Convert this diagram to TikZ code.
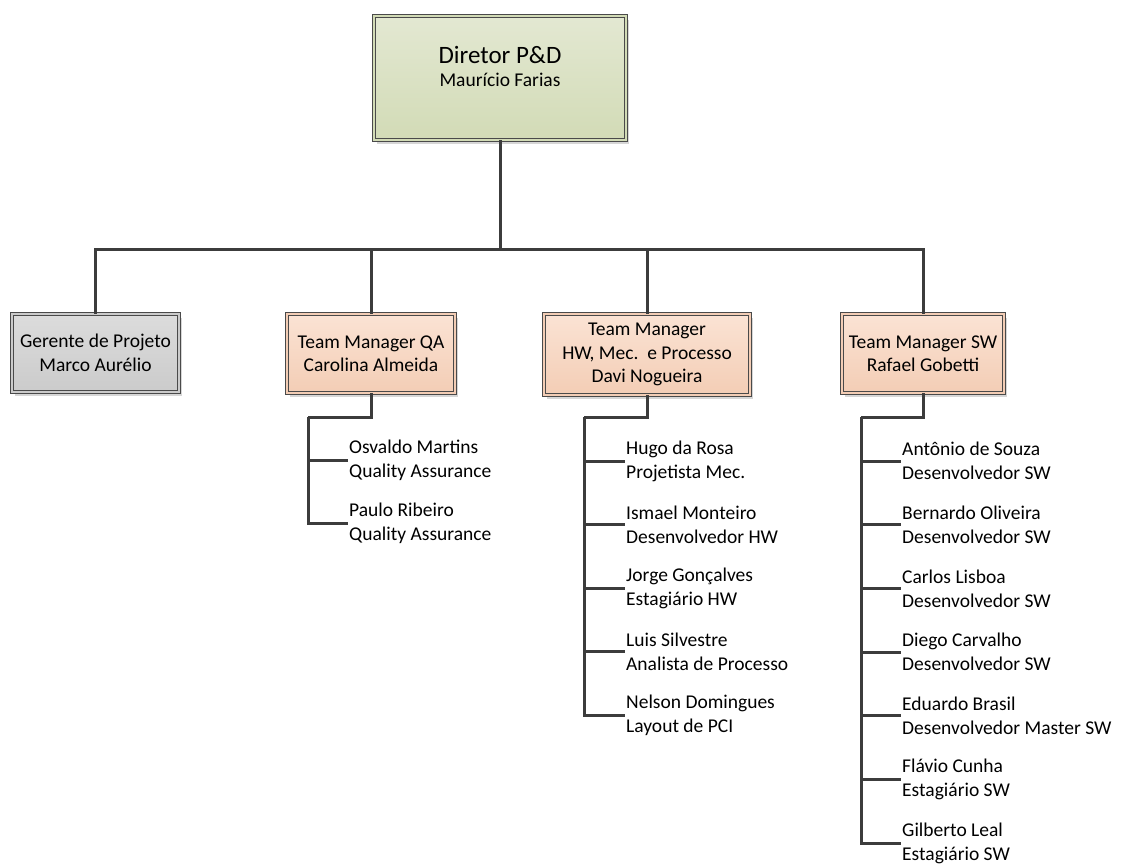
\documentclass[tikz,border=0pt]{standalone}
\usepackage{fontspec}
\setmainfont{Carlito}
\usetikzlibrary{shadows,positioning}
\definecolor{boxline}{HTML}{4A4A4A}
\definecolor{wire}{HTML}{3C3C3C}
\definecolor{shadowgray}{HTML}{D6D6D6}
\definecolor{dirtop}{HTML}{E3E8D2}
\definecolor{dirbot}{HTML}{D2DBB6}
\definecolor{mgrtop}{HTML}{FBE3D4}
\definecolor{mgrbot}{HTML}{F3CDB5}
\definecolor{gptop}{HTML}{DCDCDC}
\definecolor{gpbot}{HTML}{CBCBCB}
\newcommand{\boxfont}{\fontsize{19.5}{23.5}\selectfont}
\newcommand{\titlefont}{\fontsize{25}{27}\selectfont}
\newcommand{\staffont}{\fontsize{19.5}{24}\selectfont}
\tikzset{
  orgbox/.style = {rectangle, draw=boxline, line width=0.9pt, double distance=2.2pt,
    align=center, inner sep=0pt, font=\boxfont,
    drop shadow={shadow xshift=3pt, shadow yshift=-4pt, fill=shadowgray, opacity=1}},
  director/.style = {orgbox, double=dirbot, top color=dirtop, bottom color=dirbot,
    minimum width=252pt, minimum height=124pt, text depth=23pt},
  manager/.style = {orgbox, double=mgrbot, top color=mgrtop, bottom color=mgrbot,
    minimum height=79pt},
  project/.style = {orgbox, double=gpbot, top color=gptop, bottom color=gpbot,
    minimum width=167pt, minimum height=78pt},
  staff/.style = {anchor=west, align=left, inner xsep=1pt, inner ysep=0pt, font=\staffont},
  link/.style = {draw=wire, line width=3pt}
}

\begin{document}
\begin{tikzpicture}[x=1pt, y=1pt]
\useasboundingbox (0,0) rectangle (1122,-865);

% top of the tree
\node[director] (dir) at (500,-78)
  {{\titlefont Diretor P\&D}\\{\boxfont Maurício Farias}};

% second level
\node[project] (gp) at (95.5,-353) {Gerente de Projeto\\Marco Aurélio};
\node[manager, minimum width=168pt] (qa) at (371,-353.5) {Team Manager QA\\Carolina Almeida};
\node[manager, minimum width=206pt, minimum height=81pt] (hw) at (647,-354.5)
  {Team Manager\\HW, Mec.\ \ e Processo\\Davi Nogueira};
\node[manager, minimum width=162pt] (sw) at (923,-353.5) {Team Manager SW\\Rafael Gobetti};

\coordinate (bus) at (500,-249);
\draw[link] (dir.south) -- (bus);
\foreach \mgr in {gp,qa,hw,sw}
  \draw[link] (bus) -| (\mgr.north);

% QA team
\coordinate (qaspine) at (308,-417);
\foreach \who/\role [count=\i] in {Osvaldo Martins/Quality Assurance,
    Paulo Ribeiro/Quality Assurance}
  \node[staff] (qa\i) at (348,{-460-(\i-1)*63}) {\who\\\role};

% HW team
\coordinate (hwspine) at (584,-417);
\foreach \who/\role [count=\i] in {Hugo da Rosa/Projetista Mec.,
    Ismael Monteiro/Desenvolvedor HW, Jorge Gonçalves/Estagiário HW,
    Luis Silvestre/Analista de Processo, Nelson Domingues/Layout de PCI}
  \node[staff] (hw\i) at (625,{-461-(\i-1)*63.5}) {\who\\\role};

% SW team
\coordinate (swspine) at (861,-417);
\foreach \who/\role [count=\i] in {Antônio de Souza/Desenvolvedor SW,
    Bernardo Oliveira/Desenvolvedor SW, Carlos Lisboa/Desenvolvedor SW,
    Diego Carvalho/Desenvolvedor SW, Eduardo Brasil/Desenvolvedor Master SW,
    Flávio Cunha/Estagiário SW, Gilberto Leal/Estagiário SW}
  \node[staff] (sw\i) at (901,{-461-(\i-1)*63.7}) {\who\\\role};

\draw[link] (qa.south) |- (qaspine);
\draw[link] (hw.south) |- (hwspine);
\draw[link] (sw.south) |- (swspine);
\foreach \i in {1,2}
  \draw[link] (qaspine) |- (qa\i.west);
\foreach \i in {1,...,5}
  \draw[link] (hwspine) |- (hw\i.west);
\foreach \i in {1,...,7}
  \draw[link] (swspine) |- (sw\i.west);

\end{tikzpicture}
\end{document}
